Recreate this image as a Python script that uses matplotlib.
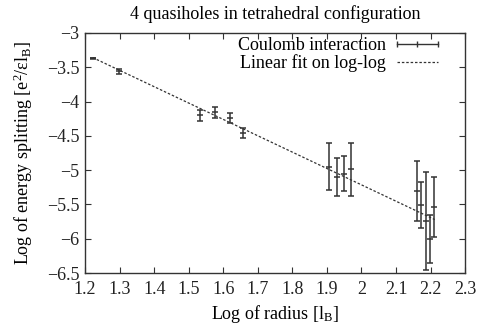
import numpy as np
import matplotlib
matplotlib.use("Agg")
import matplotlib.pyplot as plt
from matplotlib.lines import Line2D
from matplotlib.ticker import FuncFormatter, MultipleLocator

plt.rcParams["font.family"] = ["Liberation Serif", "DejaVu Serif"]
plt.rcParams["mathtext.fontset"] = "custom"
plt.rcParams["mathtext.rm"] = "Liberation Serif"
plt.rcParams["mathtext.it"] = "Liberation Serif:italic"

# data
log_r = [1.222, 1.299, 1.533, 1.576, 1.620, 1.656, 1.907, 1.929, 1.950,
         1.969, 2.160, 2.173, 2.186, 2.199, 2.210]
log_e = [-3.37, -3.56, -4.20, -4.16, -4.24, -4.46, -4.95, -5.10, -5.05,
         -4.99, -5.30, -5.51, -5.74, -6.00, -5.54]
err = [0.01, 0.04, 0.08, 0.08, 0.07, 0.07, 0.34, 0.27, 0.25,
       0.38, 0.44, 0.33, 0.72, 0.35, 0.44]

fit_x = [1.222, 2.212]
fit_y = [-3.36, -5.72]

col = "#333333"
fs = 13

fig = plt.figure(figsize=(4.81, 3.29), dpi=100)
ax = fig.add_axes([0.177, 0.170, 0.790, 0.730])

ax.errorbar(log_r, log_e, yerr=err, fmt="_", color=col, ms=5, mew=1.1,
            elinewidth=1.1, capsize=2.5, capthick=1.1)
ax.plot(fit_x, fit_y, color=col, lw=0.9, ls=(0, (2, 1.5)))

ax.set_xlim(1.2, 2.3)
ax.set_ylim(-6.5, -3)
ax.xaxis.set_major_locator(MultipleLocator(0.1))
ax.yaxis.set_major_locator(MultipleLocator(0.5))
fmt = FuncFormatter(lambda v, p: ("%g" % round(v, 3)).replace("-", "\u2212"))
ax.xaxis.set_major_formatter(fmt)
ax.yaxis.set_major_formatter(fmt)
ax.tick_params(direction="in", top=True, right=True, length=4, width=0.8,
               labelsize=fs, colors=col, labelcolor="#222222")
ax.tick_params(axis="x", pad=6)
ax.tick_params(axis="y", pad=4)
for s in ax.spines.values():
    s.set_color(col)
    s.set_linewidth(1)

ax.set_title("4 quasiholes in tetrahedral configuration", fontsize=fs, pad=10)
ax.set_xlabel(r"Log of radius [l$_\mathregular{B}$]", fontsize=fs, labelpad=3)
ax.set_ylabel(r"Log of energy splitting [e$^\mathregular{2}$/εl$_\mathregular{B}$]",
              fontsize=fs, labelpad=9)

h1 = Line2D([], [], color=col, lw=1, marker="|", ms=5, mew=1)
h2 = Line2D([], [], color=col, lw=0.9, ls=(0, (2, 1.5)))
leg = ax.legend([h1, h2], ["Coulomb interaction", "Linear fit on log-log"],
                loc="upper right", frameon=False, markerfirst=False,
                numpoints=3, fontsize=fs, handlelength=2.9, handletextpad=0.3,
                labelspacing=0.0, borderaxespad=0.0, borderpad=0.25,
                bbox_to_anchor=(0.955, 1.0))

fig.savefig("out.png", dpi=100)
